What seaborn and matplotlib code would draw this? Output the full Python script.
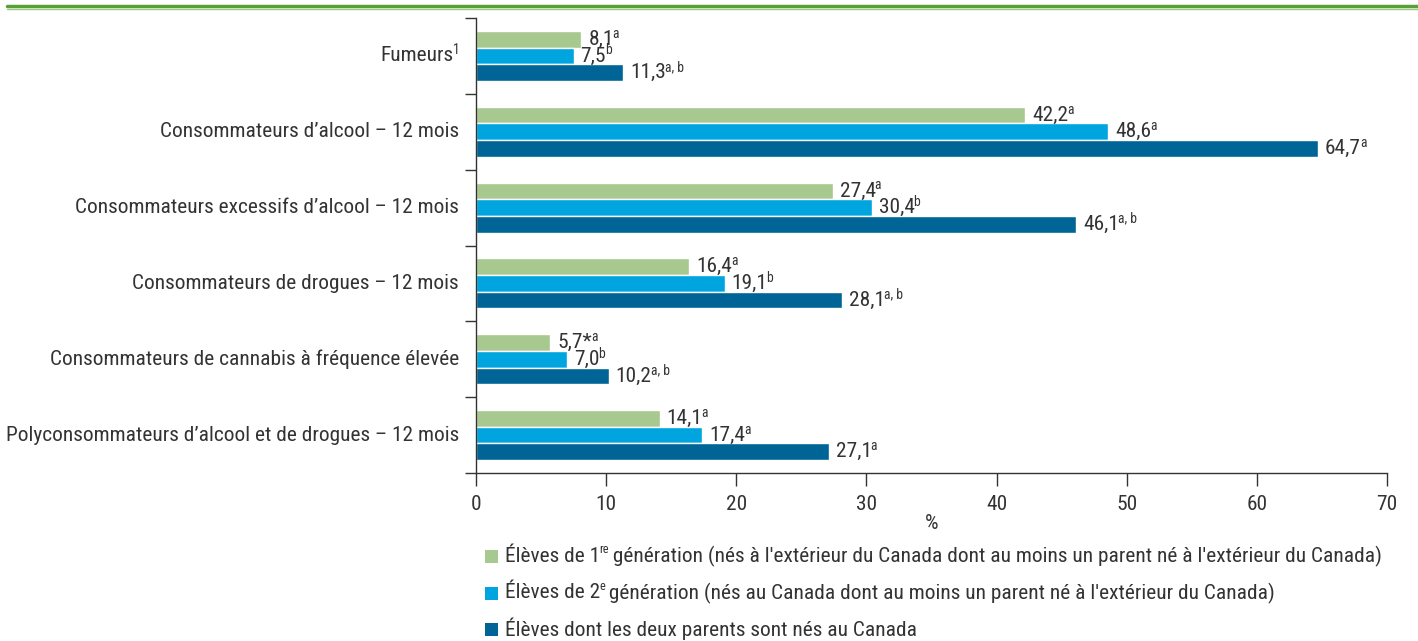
import matplotlib
matplotlib.use("Agg")
import matplotlib.pyplot as plt
from matplotlib import font_manager
from matplotlib.patches import Rectangle
from matplotlib.lines import Line2D
import matplotlib.transforms as mtransforms
import seaborn as sns
import pandas as pd
import numpy as np

# ---- data ----
categories = [
    "Fumeurs",
    "Consommateurs d\u2019alcool \u2013 12 mois",
    "Consommateurs excessifs d\u2019alcool \u2013 12 mois",
    "Consommateurs de drogues \u2013 12 mois",
    "Consommateurs de cannabis à fréquence élevée",
    "Polyconsommateurs d\u2019alcool et de drogues \u2013 12 mois",
]
category_marks = ["1", "", "", "", "", ""]
series_names = ["Génération 1", "Génération 2", "Natifs"]
legend_parts = [
    ("Élèves de 1", "re", " génération (nés à l'extérieur du Canada dont au moins un parent né à l'extérieur du Canada)"),
    ("Élèves de 2", "e", " génération (nés au Canada dont au moins un parent né à l'extérieur du Canada)"),
    ("Élèves dont les deux parents sont nés au Canada", "", ""),
]
gen1 = [8.1, 42.2, 27.4, 16.4, 5.7, 14.1]
gen2 = [7.5, 48.6, 30.4, 19.1, 7.0, 17.4]
natives = [11.3, 64.7, 46.1, 28.1, 10.2, 27.1]
gen1_marks = ["a", "a", "a", "a", "a", "a"]
gen2_marks = ["b", "a", "b", "b", "b", "a"]
natives_marks = ["a, b", "a", "a, b", "a, b", "a, b", "a"]
gen1_flags = ["", "", "", "", "*", ""]
x_ticks = [0, 10, 20, 30, 40, 50, 60, 70]
x_label = "%"

colors = ["#A7C88F", "#00A5DF", "#006596"]
text_color = "#333333"

# ---- fonts ----
available = {f.name for f in font_manager.fontManager.ttflist}
main_font = "DejaVu Sans"
for cand in ["Liberation Sans Narrow", "Roboto Condensed", "Open Sans Condensed", "Liberation Sans"]:
    if cand in available:
        main_font = cand
        break

sns.set_theme(style="white")
plt.rcParams["font.family"] = [main_font, "DejaVu Sans"]
plt.rcParams["text.color"] = text_color

rows = []
for s, vals in zip(series_names, [gen1, gen2, natives]):
    for c, v in zip(categories, vals):
        rows.append({"cat": c, "serie": s, "val": v})
df = pd.DataFrame(rows)

W, H = 1418, 641
fig = plt.figure(figsize=(W / 100, H / 100), dpi=100)
ax = fig.add_axes([476 / W, 1 - 473 / H, (1387 - 476) / W, (473 - 18) / H])

sns.barplot(data=df, y="cat", x="val", hue="serie", order=categories,
            hue_order=series_names, palette=colors, orient="h",
            width=0.66, errorbar=None, ax=ax, saturation=1, legend=False)

fs = 15.4
sfs = 9.8


def add_sup(parent, sup, dx=-0.8, dy=2.2, size=sfs):
    return ax.annotate(sup, xy=(1, 1), xycoords=parent, xytext=(dx, dy),
                       textcoords="offset points", ha="left", va="top",
                       fontsize=size, color=text_color, annotation_clip=False)


for cont, vals, marks, flags in zip(ax.containers, [gen1, gen2, natives],
                                     [gen1_marks, gen2_marks, natives_marks],
                                     [gen1_flags, [""] * 6, [""] * 6]):
    for patch, v, m, fl in zip(cont.patches, vals, marks, flags):
        yc = patch.get_y() + patch.get_height() / 2
        base = f"{v:.1f}".replace(".", ",") + fl
        t = ax.annotate(base, xy=(patch.get_width(), yc), xycoords="data",
                        xytext=(5, 0), textcoords="offset points",
                        ha="left", va="center", fontsize=fs, color=text_color,
                        annotation_clip=False)
        add_sup(t, m)

ax.set_xlim(0, 70)
ax.set_ylim(5.5, -0.5)
ax.set_xticks(x_ticks)
ax.set_xticklabels([str(t) for t in x_ticks], fontsize=fs, color=text_color)
ax.set_xlabel(x_label, fontsize=fs, color=text_color, labelpad=0)
ax.set_ylabel("")
ax.set_yticks(range(len(categories)))
ax.set_yticklabels([""] * len(categories))
ax.set_yticks(np.arange(-0.5, len(categories), 1.0), minor=True)
ax.tick_params(axis="y", which="major", length=0)
ax.tick_params(axis="y", which="minor", length=8, width=1, color="#333333", direction="out", left=True)
ax.tick_params(axis="x", which="major", length=9, width=1, color="#333333", direction="out", bottom=True, pad=7)
for side in ["top", "right"]:
    ax.spines[side].set_visible(False)
for side in ["left", "bottom"]:
    ax.spines[side].set_color("#333333")
    ax.spines[side].set_linewidth(1)
ax.grid(False)

# category labels (right aligned, with optional superscript)
blend = mtransforms.blended_transform_factory(ax.transAxes, ax.transData)
px_w = 1387 - 476
label_x = (459 - 476) / px_w
for i, (c, m) in enumerate(zip(categories, category_marks)):
    if m:
        mt = ax.text(label_x - 5 / px_w, i, c, transform=blend, ha="right",
                     va="center", fontsize=fs, color=text_color)
        add_sup(mt, m)
    else:
        ax.text(label_x, i, c, transform=blend, ha="right", va="center",
                fontsize=fs, color=text_color)

# legend drawn manually
leg_rows_y = [556, 593, 629]
for col, (p1, sup, p2), yy in zip(colors, legend_parts, leg_rows_y):
    fig.add_artist(Rectangle((485 / W, 1 - (yy + 6.5) / H), 12.5 / W, 12.5 / H,
                             transform=fig.transFigure, facecolor=col, edgecolor="none"))
    t1 = fig.text(505 / W, 1 - yy / H, p1, ha="left", va="center",
                  fontsize=fs, color=text_color)
    if sup:
        s = add_sup(t1, sup, size=sfs - 1)
        ax.annotate(p2, xy=(1, 0.5), xycoords=(s, t1), xytext=(-0.5, 0),
                    textcoords="offset points", ha="left", va="center",
                    fontsize=fs, color=text_color, annotation_clip=False)

# top green rule
fig.add_artist(Line2D([7 / W, 1], [1 - 6.3 / H] * 2, transform=fig.transFigure,
                      color="#5A9E3A", linewidth=2.5))
fig.add_artist(Line2D([7 / W, 1], [1 - 8.7 / H] * 2, transform=fig.transFigure,
                      color="#9ACB7C", linewidth=1.0))

fig.savefig("out.png", dpi=100)
